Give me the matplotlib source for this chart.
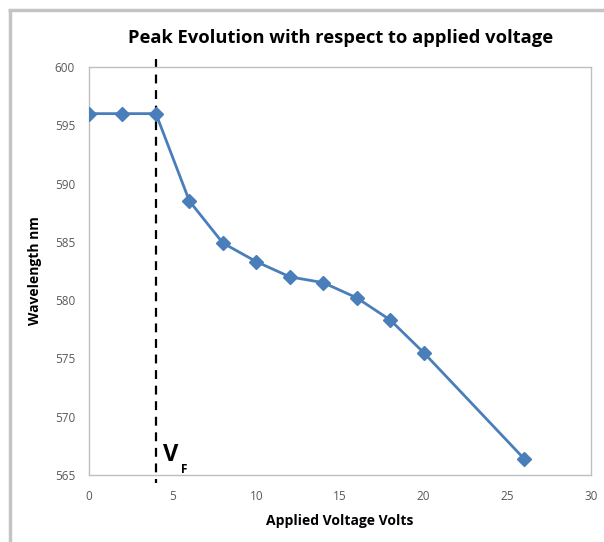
import matplotlib
matplotlib.use("Agg")
import matplotlib.pyplot as plt
from matplotlib.lines import Line2D

# Peak wavelength measured at each applied voltage
voltage = [0, 2, 4, 6, 8, 10, 12, 14, 16, 18, 20, 26]
wavelength = [596.0, 596.0, 596.0, 588.5, 584.9, 583.3, 582.0, 581.5, 580.2, 578.3, 575.5, 566.4]

forward_voltage = 4
x_ticks = [0, 5, 10, 15, 20, 25, 30]
y_ticks = [565, 570, 575, 580, 585, 590, 595, 600]

plt.rcParams["font.family"] = ["Open Sans", "DejaVu Sans"]

fig = plt.figure(figsize=(6.04, 5.42), dpi=100)
fig.patch.set_facecolor("white")

# frame around the chart area (top and left edges)
fig.add_artist(Line2D([9.5 / 604, 9.5 / 604], [0, 1 - 9.5 / 542], transform=fig.transFigure,
                      color="#c4c4c4", lw=2.5, solid_capstyle="butt"))
fig.add_artist(Line2D([8 / 604, 1], [1 - 9.5 / 542, 1 - 9.5 / 542], transform=fig.transFigure,
                      color="#c4c4c4", lw=2.5, solid_capstyle="butt"))

ax = fig.add_axes([89 / 604, 1 - 475 / 542, (591 - 89) / 604, (475 - 67) / 542])

line_color = "#4a7ebb"
ax.plot(voltage, wavelength, color=line_color, lw=2.0, marker="D", markersize=7,
        markerfacecolor=line_color, markeredgecolor=line_color, zorder=3)

ax.plot([forward_voltage, forward_voltage], [600.7, 564.3], color="black", lw=1.6,
        linestyle=(0, (4.0, 3.0)), clip_on=False, zorder=2)

ax.text(4.42, 566.2, "V", fontsize=17, fontweight="bold", color="black", ha="left", va="baseline")
ax.text(5.5, 565.15, "F", fontsize=8.5, fontweight="bold", color="black", ha="left", va="baseline")

ax.set_xlim(0, 30)
ax.set_ylim(565, 600)
ax.set_xticks(x_ticks)
ax.set_yticks(y_ticks)
ax.tick_params(axis="both", length=0, labelsize=8.5, labelcolor="#595959")
ax.tick_params(axis="x", pad=11)
ax.tick_params(axis="y", pad=10)

for side in ax.spines.values():
    side.set_color("#bfbfbf")
    side.set_linewidth(1.0)

ax.set_xlabel("Applied Voltage Volts", fontsize=10, fontweight="bold", labelpad=8)
ax.set_ylabel("Wavelength nm", fontsize=10, fontweight="bold", labelpad=9)

fig.text(341 / 604, 1 - 38 / 542, "Peak Evolution with respect to applied voltage",
         fontsize=13.2, fontweight="bold", ha="center", va="center", color="black")

fig.savefig("out.png", dpi=100, facecolor="white")
